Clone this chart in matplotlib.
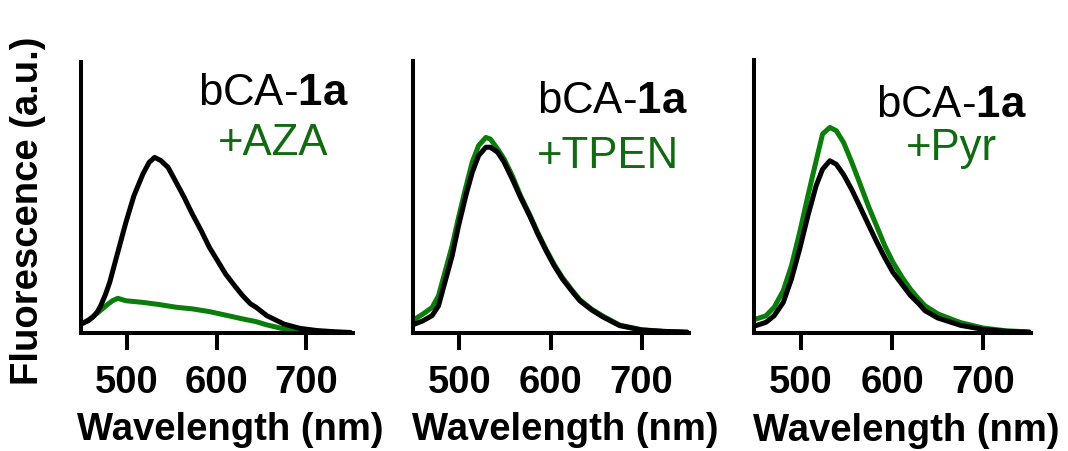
import numpy as np
import matplotlib
matplotlib.use("Agg")
import matplotlib.pyplot as plt

plt.rcParams['font.family'] = ['Liberation Sans', 'DejaVu Sans']
plt.rcParams['mathtext.fontset'] = 'custom'
plt.rcParams['mathtext.rm'] = 'Liberation Sans'
plt.rcParams['mathtext.bf'] = 'Liberation Sans:bold'

# spectra (fraction of axis height)
aza_wl = [451, 457, 462, 467, 471, 476, 481, 490, 499, 508, 518, 525, 531, 538, 546, 555, 564,
          573, 583, 592, 601, 610, 620, 629, 638, 644, 656, 675, 693, 712, 730, 749]
aza_black = [0.036, 0.045, 0.058, 0.077, 0.101, 0.140, 0.187, 0.298, 0.408, 0.507, 0.587, 0.630,
             0.648, 0.636, 0.611, 0.556, 0.500, 0.439, 0.377, 0.316, 0.267, 0.218, 0.175,
             0.138, 0.107, 0.095, 0.064, 0.033, 0.017, 0.009, 0.005, 0.002]
aza_green_wl = [451, 458, 466, 477, 484, 490, 499, 518, 536, 555, 573, 592, 610, 629, 644, 656,
                675, 693, 712, 730, 749]
aza_green = [0.036, 0.050, 0.070, 0.101, 0.119, 0.128, 0.119, 0.113, 0.105, 0.095, 0.089, 0.079,
             0.066, 0.052, 0.042, 0.030, 0.015, 0.006, 0.003, 0.002, 0.001]

tpen_wl = [451, 460, 470, 477, 484, 492, 499, 507, 514, 521, 529, 534, 542, 549, 558, 567, 577,
           586, 595, 604, 613, 623, 632, 645, 658, 676, 700, 724, 750]
tpen_black = [0.033, 0.045, 0.064, 0.100, 0.186, 0.284, 0.394, 0.505, 0.590, 0.652, 0.683, 0.683,
              0.664, 0.628, 0.566, 0.499, 0.431, 0.364, 0.303, 0.247, 0.199, 0.156, 0.119,
              0.085, 0.058, 0.027, 0.011, 0.006, 0.003]
tpen_green = [0.051, 0.070, 0.094, 0.137, 0.223, 0.321, 0.425, 0.536, 0.628, 0.689, 0.719, 0.713,
              0.676, 0.640, 0.578, 0.505, 0.436, 0.369, 0.308, 0.252, 0.204, 0.160, 0.123,
              0.088, 0.061, 0.029, 0.012, 0.006, 0.003]

pyr_wl = [451, 462, 471, 481, 490, 499, 508, 517, 524, 532, 539, 547, 556, 565, 574, 583, 592,
          601, 611, 620, 629, 636, 650, 675, 700, 725, 750]
pyr_black = [0.027, 0.039, 0.063, 0.112, 0.198, 0.308, 0.430, 0.540, 0.600, 0.631, 0.618, 0.580,
             0.525, 0.462, 0.398, 0.335, 0.276, 0.222, 0.178, 0.138, 0.108, 0.082,
             0.055, 0.028, 0.013, 0.006, 0.003]
pyr_green = [0.051, 0.063, 0.094, 0.155, 0.247, 0.369, 0.503, 0.631, 0.729, 0.753, 0.741, 0.698,
             0.625, 0.546, 0.466, 0.393, 0.320, 0.259, 0.204, 0.161, 0.125, 0.100,
             0.070, 0.038, 0.018, 0.008, 0.004]

labels = ['+AZA', '+TPEN', '+Pyr']
xticks = [500, 600, 700]

GREEN = '#0a7d0a'
GREEN_TXT = '#116a11'

fig = plt.figure(figsize=(10.68, 4.52), dpi=100)
W, H = 1068, 452
boxes = [(81, 63, 353, 334), (413, 62, 689, 334), (754, 61, 1031, 334)]
axes = []
for (x0, y0, x1, y1) in boxes:
    axes.append(fig.add_axes([x0 / W, 1 - y1 / H, (x1 - x0) / W, (y1 - y0) / H]))

curves = [
    (aza_green_wl, aza_green, aza_wl, aza_black),
    (tpen_wl, tpen_green, tpen_wl, tpen_black),
    (pyr_wl, pyr_green, pyr_wl, pyr_black),
]

for ax, (gx, gy, bx, by) in zip(axes, curves):
    ax.plot(gx, gy, color=GREEN, lw=3.6, solid_joinstyle='round', solid_capstyle='round')
    ax.plot(bx, by, color='black', lw=3.6, solid_joinstyle='round', solid_capstyle='round')
    ax.set_xlim(449, 752)
    ax.set_ylim(0, 1)
    for s in ['top', 'right']:
        ax.spines[s].set_visible(False)
    for s in ['left', 'bottom']:
        ax.spines[s].set_linewidth(2.9)
    ax.set_yticks([])
    ax.set_xticks(xticks)
    ax.tick_params(axis='x', direction='out', length=12, width=2.9, pad=10,
                   labelsize=27.5)
    for t in ax.get_xticklabels():
        t.set_fontweight('bold')
    ax.set_xlabel('Wavelength (nm)', fontsize=27.5, fontweight='bold', va='baseline')
    ax.xaxis.set_label_coords(0.55, -(440 - 334) / 271)

# annotations
ann = [
    (0.706, 0.845, 0.660, 'center'),
    (0.449, 0.8125, 0.610, 'left'),
    (0.711, 0.796, 0.637, 'center'),
]
for ax, (x, y1, y2, ha), lab in zip(axes, ann, labels):
    ax.text(x, y1, r'bCA-$\mathbf{1a}$', transform=ax.transAxes, fontsize=31.5,
            ha=ha, va='baseline', color='black')
    ax.text(x, y2, lab, transform=ax.transAxes, fontsize=31.5,
            ha=ha, va='baseline', color=GREEN_TXT)

fig.text(28 / W, 1 - 211 / H, 'Fluorescence (a.u.)', rotation=90, fontsize=27.5,
         fontweight='bold', ha='center', va='center')

fig.savefig('out.png', dpi=100)
